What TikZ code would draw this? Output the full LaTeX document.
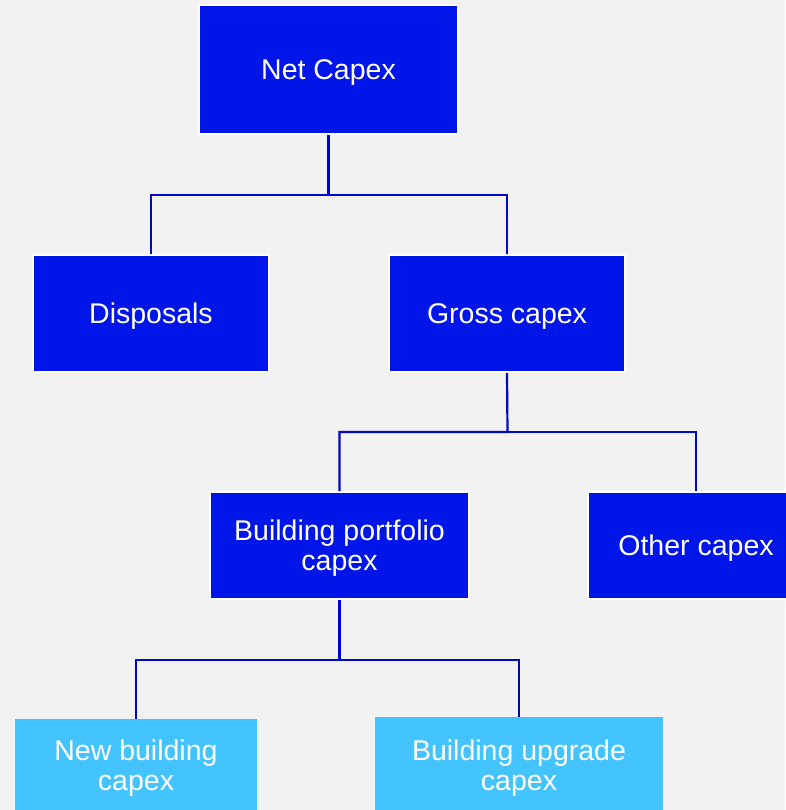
\documentclass[tikz,border=0pt]{standalone}
\usepackage{fontspec}
\setmainfont{Liberation Sans}
\definecolor{bg}{HTML}{F2F2F2}
\definecolor{darkbox}{HTML}{0015E8}
\definecolor{lightbox}{HTML}{44C4FF}
\definecolor{conn}{HTML}{0008C8}
\newcommand{\topstrut}{\rule{0pt}{25.5pt}}
\begin{document}
\begin{tikzpicture}[x=1pt,y=-1pt,
  darkstyle/.style={draw=white,line width=2pt,fill=darkbox,text=white,inner sep=0pt,align=center,
    font=\fontsize{28.5}{30}\selectfont},
  lightstyle/.style={fill=lightbox,text=white,inner sep=0pt,align=center,
    font=\fontsize{28.5}{30}\selectfont},
  connstyle/.style={draw=conn,line width=2.2pt}]
\fill[bg] (0,0) rectangle (785,810);
\useasboundingbox (0,0) rectangle (785,810);
\node[darkstyle,minimum width=259pt,minimum height=129pt] (net) at (328.5,69.5) {\rule{0pt}{26pt}Net Capex};
\node[darkstyle,minimum width=236pt,minimum height=117pt] (disp) at (151,313.5) {\rule{0pt}{26pt}Disposals};
\node[darkstyle,minimum width=236pt,minimum height=117pt] (gross) at (507,313.5) {\rule{0pt}{26pt}Gross capex};
\node[darkstyle,minimum width=259pt,minimum height=107pt] (bpc) at (339.5,545.5) {\topstrut Building portfolio\\capex};
\node[darkstyle,minimum width=216pt,minimum height=107pt] (other) at (696,545.5) {\rule{0pt}{26pt}Other capex};
\node[lightstyle,minimum width=242pt,minimum height=94pt] (newb) at (136,766) {\topstrut New building\\capex};
\node[lightstyle,minimum width=288pt,minimum height=98pt] (upg) at (519,766) {\topstrut Building upgrade\\capex};
\coordinate (j1) at (328.5,195);
\coordinate (j2) at (507.5,432);
\coordinate (j3) at (339.5,660);
\draw[connstyle] (net.south) -- (j1) -| (disp.north);
\draw[connstyle] (j1) -| (gross.north);
\draw[connstyle] (gross.south) -- (j2) -| (bpc.north);
\draw[connstyle] (j2) -| (other.north);
\draw[connstyle] (bpc.south) -- (j3) -| (newb.north);
\draw[connstyle] (j3) -| (upg.north);
\end{tikzpicture}
\end{document}
